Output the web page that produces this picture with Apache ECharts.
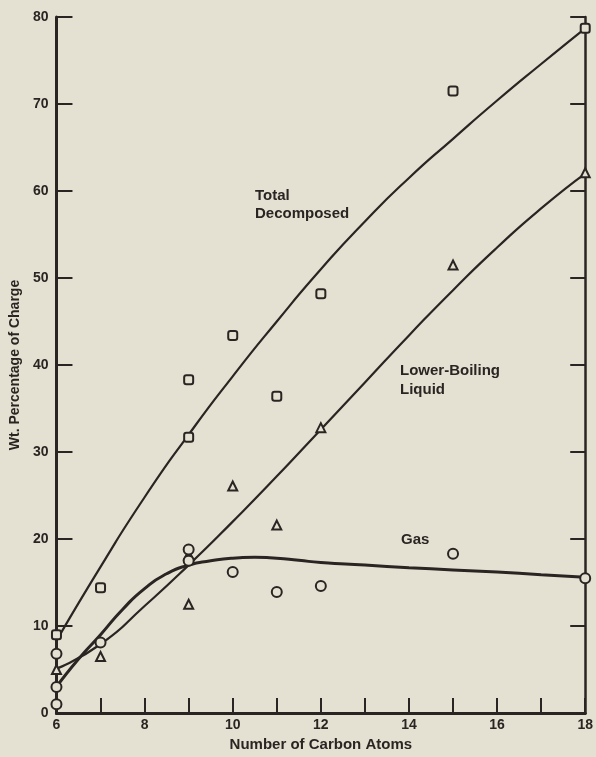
<!DOCTYPE html>
<html><head><meta charset="utf-8">
<script src="https://cdn.jsdelivr.net/npm/echarts@6/dist/echarts.min.js"></script>
<style>html,body{margin:0;padding:0;background:#e4e1d2;}#c{width:596px;height:757px;}</style>
</head><body><div id="c"></div>
<script>
// Measured points (number of carbon atoms, wt. % of charge)
const totalX = [6, 7, 9, 9, 10, 11, 12, 15, 18];
const totalY = [9.0, 14.4, 38.3, 31.7, 43.4, 36.4, 48.2, 71.5, 78.7];
const liquidX = [6, 7, 9, 9, 10, 11, 12, 15, 18];
const liquidY = [5.0, 6.5, 18.2, 12.5, 26.1, 21.6, 32.8, 51.5, 62.1];
const gasX = [6, 6, 6, 7, 9, 9, 10, 11, 12, 15, 18];
const gasY = [6.8, 3.0, 1.0, 8.1, 18.8, 17.5, 16.2, 13.9, 14.6, 18.3, 15.5];
// Fitted curves
const curveX = [6, 7, 8, 9, 10, 11, 12, 13, 14, 15, 16, 17, 18];
const totalCurve = [8.3, 16.8, 24.8, 32, 38.7, 45, 51, 56.5, 61.5, 66.0, 70.4, 74.6, 78.7];
const liquidCurve = [5.1, 7.9, 12.3, 17, 22, 27.2, 32.6, 38.0, 43.4, 48.6, 53.5, 58, 62];
const gasCurveX = [6, 6.5, 7, 7.5, 8, 8.5, 9, 9.5, 10, 10.5, 11, 11.5, 12, 13, 14, 15, 16, 17, 18];
const gasCurve = [3.0, 6.2, 9.0, 11.9, 14.3, 16.0, 17.0, 17.5, 17.8, 17.9, 17.8, 17.55, 17.3, 17.0, 16.7, 16.45, 16.2, 15.9, 15.6];
// Axis
const xTicks = [6, 8, 10, 12, 14, 16, 18];
const yTicks = [0, 10, 20, 30, 40, 50, 60, 70, 80];
const labels = ['Total\nDecomposed', 'Lower-Boiling\nLiquid', 'Gas'];
const xName = 'Number of Carbon Atoms';
const yName = 'Wt. Percentage of Charge';

const BG = '#e4e1d2', INK = '#2a2522';
const FONT = '"Liberation Sans", "DejaVu Sans", sans-serif';
const zip = (xs, ys) => xs.map((x, i) => [x, ys[i]]);

const chart = echarts.init(document.getElementById('c'), null, {renderer: 'canvas'});
const mk = (name, xs, ys, symbol, size) => ({
  name, type: 'scatter', data: zip(xs, ys), symbol, symbolSize: size, z: 5, clip: false,
  itemStyle: {color: BG, borderColor: INK, borderWidth: 2, opacity: 1}
});
const ln = (name, xs, ys, w) => ({
  name, type: 'line', data: zip(xs, ys), smooth: 0.6, showSymbol: false, z: 3,
  lineStyle: {color: INK, width: w}
});
chart.setOption({
  backgroundColor: BG,
  animation: false,
  grid: {left: 52, right: 7, top: 17, bottom: 35},
  xAxis: [{
    type: 'value', min: 6, max: 18, interval: 1, position: 'bottom',
    name: xName, nameLocation: 'middle', nameGap: 24,
    nameTextStyle: {color: INK, fontFamily: FONT, fontWeight: 'bold', fontSize: 15},
    axisLine: {lineStyle: {color: INK, width: 3}},
    axisTick: {inside: true, length: 15, lineStyle: {color: INK, width: 2}},
    axisLabel: {color: INK, fontFamily: FONT, fontWeight: 'bold', fontSize: 14, margin: 5,
      formatter: v => xTicks.includes(v) ? String(v) : ''},
    splitLine: {show: false}
  }, {
    type: 'value', min: 6, max: 18, position: 'top',
    axisLine: {lineStyle: {color: INK, width: 2.5}},
    axisTick: {show: false}, axisLabel: {show: false}, splitLine: {show: false}
  }],
  yAxis: [{
    type: 'value', min: 0, max: 80, interval: 10, position: 'left',
    name: yName, nameLocation: 'middle', nameGap: 31, nameRotate: 90,
    nameTextStyle: {color: INK, fontFamily: FONT, fontWeight: 'bold', fontSize: 14},
    axisLine: {lineStyle: {color: INK, width: 3}},
    axisTick: {inside: true, length: 16, lineStyle: {color: INK, width: 2}},
    axisLabel: {color: INK, fontFamily: FONT, fontWeight: 'bold', fontSize: 14, margin: 8,
      formatter: v => yTicks.includes(v) ? String(v) : ''},
    splitLine: {show: false}
  }, {
    type: 'value', min: 0, max: 80, interval: 10, position: 'right',
    axisLine: {lineStyle: {color: INK, width: 2.5}},
    axisTick: {inside: true, length: 15, lineStyle: {color: INK, width: 2}},
    axisLabel: {show: false}, splitLine: {show: false}
  }],
  graphic: [
    {type: 'text', left: 255, top: 187, style: {text: labels[0], fill: INK, font: 'bold 15px ' + FONT, lineHeight: 18}},
    {type: 'text', left: 400, top: 361, style: {text: labels[1], fill: INK, font: 'bold 15px ' + FONT, lineHeight: 19}},
    {type: 'text', left: 401, top: 532, style: {text: labels[2], fill: INK, font: 'bold 15px ' + FONT}}
  ],
  series: [
    ln('Total Decomposed curve', curveX, totalCurve, 2.2),
    ln('Lower-Boiling Liquid curve', curveX, liquidCurve, 2.2),
    ln('Gas curve', gasCurveX, gasCurve, 3),
    mk('Total Decomposed', totalX, totalY, 'roundRect', 9),
    mk('Lower-Boiling Liquid', liquidX, liquidY, 'triangle', 9),
    mk('Gas', gasX, gasY, 'circle', 10)
  ]
});
</script></body></html>
